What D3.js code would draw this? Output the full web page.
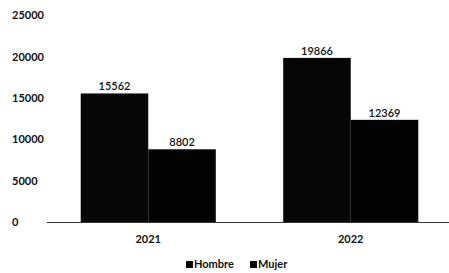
<!DOCTYPE html>
<html><head><meta charset="utf-8">
<script src="https://cdn.jsdelivr.net/npm/d3@7"></script>
<style>body{margin:0;background:#fff}text{font-family:Lato,"Liberation Sans",sans-serif;fill:#111}</style>
</head><body>
<svg id="c" width="449" height="273"></svg>
<script>
const years = ["2021", "2022"];
const seriesNames = ["Hombre", "Mujer"];
const hombre = [15562, 19866];
const mujer = [8802, 12369];
const yTicks = [0, 5000, 10000, 15000, 20000, 25000];
const colors = ["#060606", "#030303"];

const svg = d3.select("#c");
const x0 = d3.scaleBand().domain(years).range([47, 452]).paddingInner(0.333).paddingOuter(0.1665);
const x1 = d3.scaleBand().domain(seriesNames).range([0, x0.bandwidth()]);
const y = d3.scaleLinear().domain([0, 25000]).range([222, 15.5]);

// y tick labels
svg.append("g").selectAll("text").data(yTicks).join("text")
  .attr("x", 12).attr("y", d => y(d)).attr("dy", "0.35em")
  .attr("font-size", 11).attr("font-weight", 700).text(d => d);

const data = years.map((yr, i) => ({year: yr, values: [hombre[i], mujer[i]]}));
const g = svg.append("g").selectAll("g").data(data).join("g")
  .attr("transform", d => `translate(${x0(d.year)},0)`);
g.selectAll("rect").data(d => d.values.map((v, j) => ({s: seriesNames[j], v, j}))).join("rect")
  .attr("x", d => x1(d.s)).attr("width", x1.bandwidth())
  .attr("y", d => y(d.v)).attr("height", d => y(0) - y(d.v))
  .attr("fill", d => colors[d.j]);
g.selectAll("text").data(d => d.values.map((v, j) => ({s: seriesNames[j], v}))).join("text")
  .attr("x", d => x1(d.s) + x1.bandwidth() / 2).attr("y", d => y(d.v) - 3)
  .attr("text-anchor", "middle").attr("font-size", 11).attr("font-weight", 600).text(d => d.v);

// baseline
svg.append("line").attr("x1", 47).attr("x2", 452).attr("y1", y(0) + 0.5).attr("y2", y(0) + 0.5)
  .attr("stroke", "#333").attr("stroke-width", 1.2);

// x labels
svg.append("g").selectAll("text").data(years).join("text")
  .attr("x", d => x0(d) + x0.bandwidth() / 2).attr("y", 243)
  .attr("text-anchor", "middle").attr("font-size", 11).attr("font-weight", 700).text(d => d);

// legend
const legX = [186, 250];
const leg = svg.append("g").selectAll("g").data(seriesNames).join("g")
  .attr("transform", (d, i) => `translate(${legX[i]},261)`);
leg.append("rect").attr("width", 7).attr("height", 7).attr("fill", (d, i) => colors[i]);
leg.append("text").attr("x", 8).attr("y", 7).attr("font-size", 11).attr("font-weight", 700).text(d => d);
</script>
</body></html>
